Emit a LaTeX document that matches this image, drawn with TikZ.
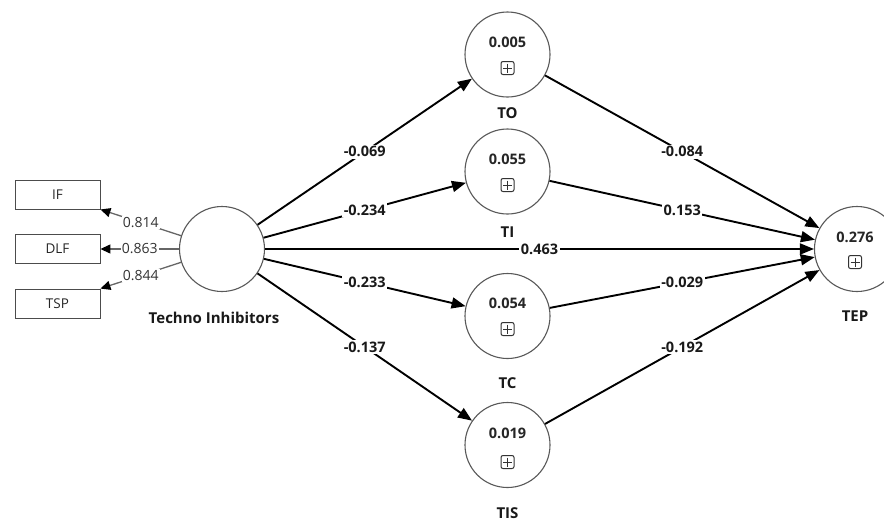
\documentclass[tikz,border=0pt]{standalone}
\usepackage{fontspec}
\setmainfont{Open Sans}
\usetikzlibrary{arrows.meta}
\begin{document}
\begin{tikzpicture}[x=1pt,y=-1pt,
  lat/.style={circle, draw=black!65, line width=1.1pt, minimum size=85pt, inner sep=0pt},
  ind/.style={rectangle, draw=black!70, line width=0.9pt, minimum width=85pt, minimum height=29pt, inner sep=0pt, font=\fontsize{13.5}{15}\selectfont, text=black!85},
  pathar/.style={line width=1.9pt, -{Triangle[length=14pt,width=11pt]}},
  loadar/.style={draw=black!60, line width=1.3pt, -{Triangle[length=10pt,width=9pt,color=black]}},
  coef/.style={fill=white, inner sep=1.5pt, font=\bfseries\fontsize{14.5}{16}\selectfont, text=black!90},
  lcoef/.style={fill=white, inner sep=1pt, font=\fontsize{14}{16}\selectfont, text=black!80},
  rsq/.style={font=\bfseries\fontsize{14.5}{16}\selectfont, text=black!85},
  lname/.style={font=\bfseries\fontsize{15}{17}\selectfont, text=black!90},
  plusbox/.pic={
    \draw[line width=1pt, rounded corners=2pt, draw=black!80] (-6.5,-6.5) rectangle (6.5,6.5);
    \draw[line width=1pt, draw=black!80] (-4.5,0) -- (4.5,0) (0,-4.5) -- (0,4.5);
  }
]
\useasboundingbox (0,0) rectangle (884,523);
\fill[white] (0,0) rectangle (884,523);

% latent variables
\node[lat] (tinh) at (222,249) {};
\node[lat] (to)   at (507.5,54.5) {};
\node[lat] (ti)   at (507.5,171.5) {};
\node[lat] (tc)   at (507.5,316) {};
\node[lat] (tis)  at (507.5,445) {};
\node[lat] (tep)  at (857,249) {};

% R-square values and plus boxes
\node[rsq] (to-v)  at (507.5,42)  {0.005};
\node[rsq] (ti-v)  at (507.5,159) {0.055};
\node[rsq] (tc-v)  at (507.5,303) {0.054};
\node[rsq] (tis-v) at (507.5,433) {0.019};
\node[rsq] (tep-v) at (855,237)   {0.276};
\pic at (507.5,68)  {plusbox};
\pic at (507.5,185) {plusbox};
\pic at (507.5,329) {plusbox};
\pic at (507.5,462) {plusbox};
\pic at (855,262)   {plusbox};

% names
\node[lname] (to-n)   at (507.5,113) {TO};
\node[lname] (ti-n)   at (507.5,232) {TI};
\node[lname] (tc-n)   at (507.5,383) {TC};
\node[lname] (tis-n)  at (507.5,513) {TIS};
\node[lname] (tep-n)  at (855,316)   {TEP};
\node[lname] (tinh-n) at (214,318)   {Techno Inhibitors};

% indicators
\node[ind] (if)  at (57.5,194.5) {IF};
\node[ind] (dlf) at (57.5,249)   {DLF};
\node[ind] (tsp) at (57.5,303.5) {TSP};

% loadings
\draw[loadar] (tinh) -- node[lcoef] {0.814} (if.south east);
\draw[loadar] (tinh) -- node[lcoef] {0.863} (dlf.east);
\draw[loadar] (tinh) -- node[lcoef] {0.844} (tsp.north east);

% structural paths
\draw[pathar] (tinh) -- node[coef] {-0.069} (to);
\draw[pathar] (tinh) -- node[coef] {-0.234} (ti);
\draw[pathar] (tinh) -- node[coef] {-0.233} (tc);
\draw[pathar] (tinh) -- node[coef] {-0.137} (tis);
\draw[pathar] (tinh) -- node[coef] {0.463} (tep);
\draw[pathar] (to)  -- node[coef] {-0.084} (tep);
\draw[pathar] (ti)  -- node[coef] {0.153} (tep);
\draw[pathar] (tc)  -- node[coef] {-0.029} (tep);
\draw[pathar] (tis) -- node[coef] {-0.192} (tep);
\end{tikzpicture}
\end{document}
